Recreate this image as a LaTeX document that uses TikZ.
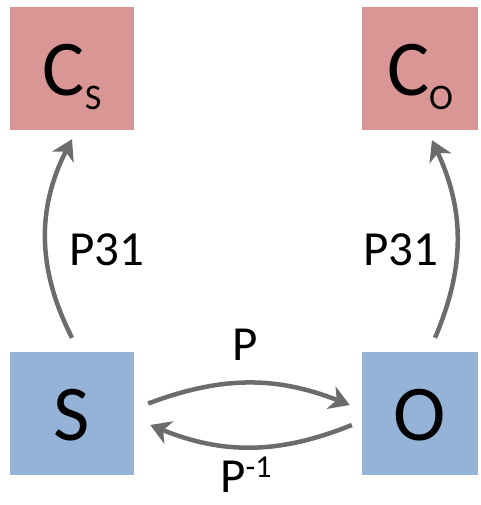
\documentclass[tikz,border=0pt]{standalone}
\usepackage{fontspec}
\setmainfont{Carlito}
\usetikzlibrary{arrows.meta}
\definecolor{pinkbox}{HTML}{D99694}
\definecolor{bluebox}{HTML}{95B3D7}
\definecolor{arrgray}{HTML}{6C6C6C}
\begin{document}
\begin{tikzpicture}[x=1pt,y=-1pt,
  box/.style={draw=none, inner sep=0pt, minimum width=124pt, minimum height=123pt,
              text height=54pt, text depth=0pt, font=\fontsize{79}{79}\selectfont},
  redbox/.style={box, fill=pinkbox},
  bluebx/.style={box, fill=bluebox},
  conn/.style={draw=arrgray, line width=4.5pt, -{Stealth[length=20pt,width=24pt,inset=6pt]}},
  lbl/.style={anchor=base, inner sep=0pt, font=\fontsize{49}{49}\selectfont}]
\useasboundingbox (0,0) rectangle (480,505);
\node[redbox] (CS) at (72,68.5) {C\raisebox{-14pt}{\fontsize{36}{36}\selectfont S}};
\node[redbox, minimum width=116pt] (CO) at (420,68.5) {C\raisebox{-14pt}{\fontsize{36}{36}\selectfont O}};
\node[bluebx] (S) at (72,413.5) {S};
\node[bluebx, minimum width=116pt] (O) at (420,413.5) {O};
\draw[conn] ([yshift=14pt]S.north) to[bend left=27] ([yshift=-9pt]CS.south);
\draw[conn] ([xshift=15pt,yshift=14pt]O.north) to[bend right=24] ([xshift=12pt,yshift=-10pt]CO.south);
\draw[conn] ([xshift=14pt,yshift=10pt]S.east) to[bend left=21] ([xshift=-12pt,yshift=8.5pt]O.west);
\draw[conn] ([xshift=-10pt,yshift=-11.5pt]O.west) to[bend left=22] ([xshift=16pt,yshift=-11.5pt]S.east);
\node[lbl] (l1) at (107,265) {P31};
\node[lbl] (l2) at (401,265) {P31};
\node[lbl] (l3) at (245,360) {P};
\node[lbl] (l4) at (246,492) {P\raisebox{15pt}{\fontsize{32}{32}\selectfont -1}};
\end{tikzpicture}
\end{document}
